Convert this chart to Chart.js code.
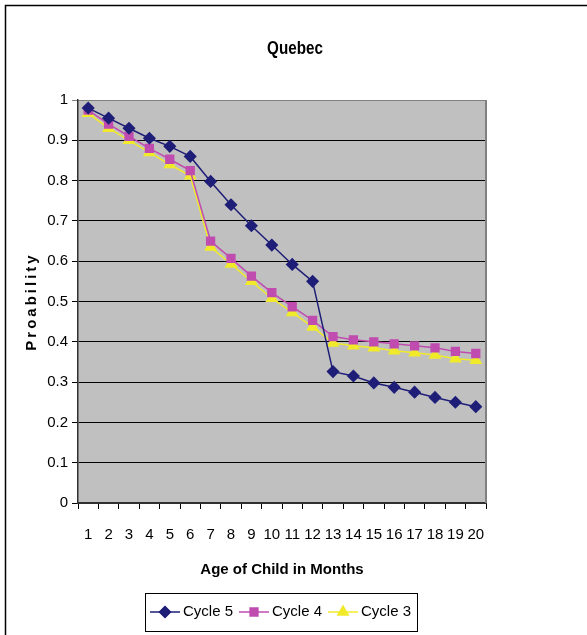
<!DOCTYPE html>
<html>
<head>
<meta charset="utf-8">
<script src="https://cdn.jsdelivr.net/npm/chart.js@4.4.0/dist/chart.umd.min.js"></script>
<style>
    html, body { margin: 0; padding: 0; background: #fff; }
</style>
</head>
<body>
<canvas id="grafico" width="587" height="635"></canvas>
<script>
// Datos
const meses = ['1', '2', '3', '4', '5', '6', '7', '8', '9', '10',
               '11', '12', '13', '14', '15', '16', '17', '18', '19', '20'];
const ciclo5 = [0.98, 0.955, 0.93, 0.905, 0.885, 0.86, 0.798, 0.74, 0.688, 0.64,
                0.592, 0.55, 0.326, 0.315, 0.298, 0.287, 0.275, 0.262, 0.25, 0.239];
const ciclo4 = [0.975, 0.94, 0.91, 0.88, 0.853, 0.825, 0.65, 0.607, 0.563, 0.522,
                0.487, 0.453, 0.413, 0.405, 0.4, 0.395, 0.39, 0.385, 0.376, 0.371];
const ciclo3 = [0.967, 0.93, 0.9, 0.87, 0.84, 0.812, 0.635, 0.593, 0.55, 0.508,
                0.473, 0.437, 0.397, 0.39, 0.385, 0.378, 0.373, 0.367, 0.358, 0.354];
const etiquetasY = ['0', '0.1', '0.2', '0.3', '0.4', '0.5', '0.6', '0.7', '0.8', '0.9', '1'];

const fuente = "'Liberation Sans', Arial, sans-serif";

// Fondo gris del área de trazado
const fondoPlugin = {
    id: 'fondo',
    beforeDraw(chart) {
        const { ctx, chartArea: a } = chart;
        ctx.save();
        ctx.fillStyle = '#c0c0c0';
        ctx.fillRect(a.left, a.top, a.right - a.left, a.bottom - a.top);
        ctx.restore();
    }
};

// Marco, títulos y leyenda
const extrasPlugin = {
    id: 'extras',
    afterDraw(chart) {
        const { ctx, chartArea: a } = chart;
        ctx.save();

        // borde derecho del área de trazado
        ctx.strokeStyle = '#808080';
        ctx.lineWidth = 2;
        ctx.beginPath();
        ctx.moveTo(a.right, a.top);
        ctx.lineTo(a.right, a.bottom);
        ctx.stroke();

        // marco exterior
        ctx.strokeStyle = '#000';
        ctx.lineWidth = 1.5;
        ctx.beginPath();
        ctx.moveTo(5.5, 635);
        ctx.lineTo(5.5, 5.5);
        ctx.lineTo(587, 5.5);
        ctx.stroke();

        // título del gráfico (letra estrecha)
        ctx.fillStyle = '#000';
        ctx.font = 'bold 19px ' + fuente;
        ctx.textAlign = 'center';
        ctx.textBaseline = 'middle';
        ctx.translate(295, 49);
        ctx.scale(0.8, 1);
        ctx.fillText('Quebec', 0, 0);
        ctx.setTransform(1, 0, 0, 1, 0, 0);

        // título del eje Y con espaciado
        ctx.font = 'bold 15px ' + fuente;
        ctx.letterSpacing = '3px';
        ctx.translate(32, (a.top + a.bottom) / 2);
        ctx.rotate(-Math.PI / 2);
        ctx.fillText('Proability', 0, 0);
        ctx.setTransform(1, 0, 0, 1, 0, 0);
        ctx.letterSpacing = '0px';

        // leyenda
        ctx.strokeStyle = '#000';
        ctx.lineWidth = 1;
        ctx.strokeRect(145.5, 593.5, 272, 38);
        ctx.font = '15px ' + fuente;
        ctx.textAlign = 'left';
        ctx.textBaseline = 'middle';
        const yLey = 612;
        let x = 150;
        chart.data.datasets.forEach(ds => {
            ctx.strokeStyle = ds.borderColor;
            ctx.lineWidth = 1.5;
            ctx.beginPath();
            ctx.moveTo(x, yLey);
            ctx.lineTo(x + 30, yLey);
            ctx.stroke();
            ctx.fillStyle = ds.backgroundColor;
            Chart.helpers.drawPoint(ctx, {
                pointStyle: ds.pointStyle,
                radius: ds.pointRadius,
                rotation: 0,
                borderWidth: 1
            }, x + 15, yLey);
            ctx.fill();
            ctx.fillStyle = '#000';
            ctx.fillText(ds.label, x + 33, yLey);
            x += 33 + ctx.measureText(ds.label).width + 6;
        });
        ctx.restore();
    }
};

const ctx = document.getElementById('grafico').getContext('2d');
const chart = new Chart(ctx, {
    type: 'line',
    data: {
        labels: meses,
        datasets: [
            {
                label: 'Cycle 5',
                data: ciclo5,
                borderColor: '#1e1e78',
                backgroundColor: '#1e1e78',
                borderWidth: 1.5,
                pointStyle: 'rectRot',
                pointRadius: 5.5
            },
            {
                label: 'Cycle 4',
                data: ciclo4,
                borderColor: '#c04cb0',
                backgroundColor: '#c04cb0',
                borderWidth: 1.5,
                pointStyle: 'rect',
                pointRadius: 5.5
            },
            {
                label: 'Cycle 3',
                data: ciclo3,
                borderColor: '#f0ea2a',
                backgroundColor: '#f0ea2a',
                borderWidth: 1.5,
                pointStyle: 'triangle',
                pointRadius: 6
            }
        ]
    },
    options: {
        responsive: false,
        animation: false,
        devicePixelRatio: 1,
        layout: {
            padding: { top: 100, left: 5, right: 101, bottom: 52 }
        },
        plugins: {
            legend: { display: false },
            tooltip: { enabled: false },
            title: { display: false }
        },
        scales: {
            x: {
                offset: true,
                grid: {
                    offset: true,
                    drawOnChartArea: false,
                    drawTicks: true,
                    tickLength: 6,
                    color: '#000'
                },
                border: { display: true, color: '#303030', width: 2 },
                ticks: {
                    color: '#000',
                    padding: 17,
                    maxRotation: 0,
                    autoSkip: false,
                    font: { family: fuente, size: 15 }
                },
                title: {
                    display: true,
                    text: 'Age of Child in Months',
                    color: '#000',
                    font: { family: fuente, size: 15, weight: 'bold', lineHeight: 1.2 },
                    padding: { top: 0, bottom: 4 }
                },
                afterFit(scale) { scale.height = 80; }
            },
            y: {
                min: 0,
                max: 1,
                grid: {
                    color: c => (c.tick && c.tick.value === 1) ? '#808080' : '#000',
                    lineWidth: 1,
                    tickLength: 6
                },
                border: { display: true, color: '#303030', width: 1.5 },
                ticks: {
                    stepSize: 0.1,
                    color: '#000',
                    padding: 4,
                    font: { family: fuente, size: 15 },
                    callback: (v, i) => etiquetasY[i]
                },
                afterFit(scale) { scale.width = 73; }
            }
        }
    },
    plugins: [fondoPlugin, extrasPlugin]
});
</script>
</body>
</html>
